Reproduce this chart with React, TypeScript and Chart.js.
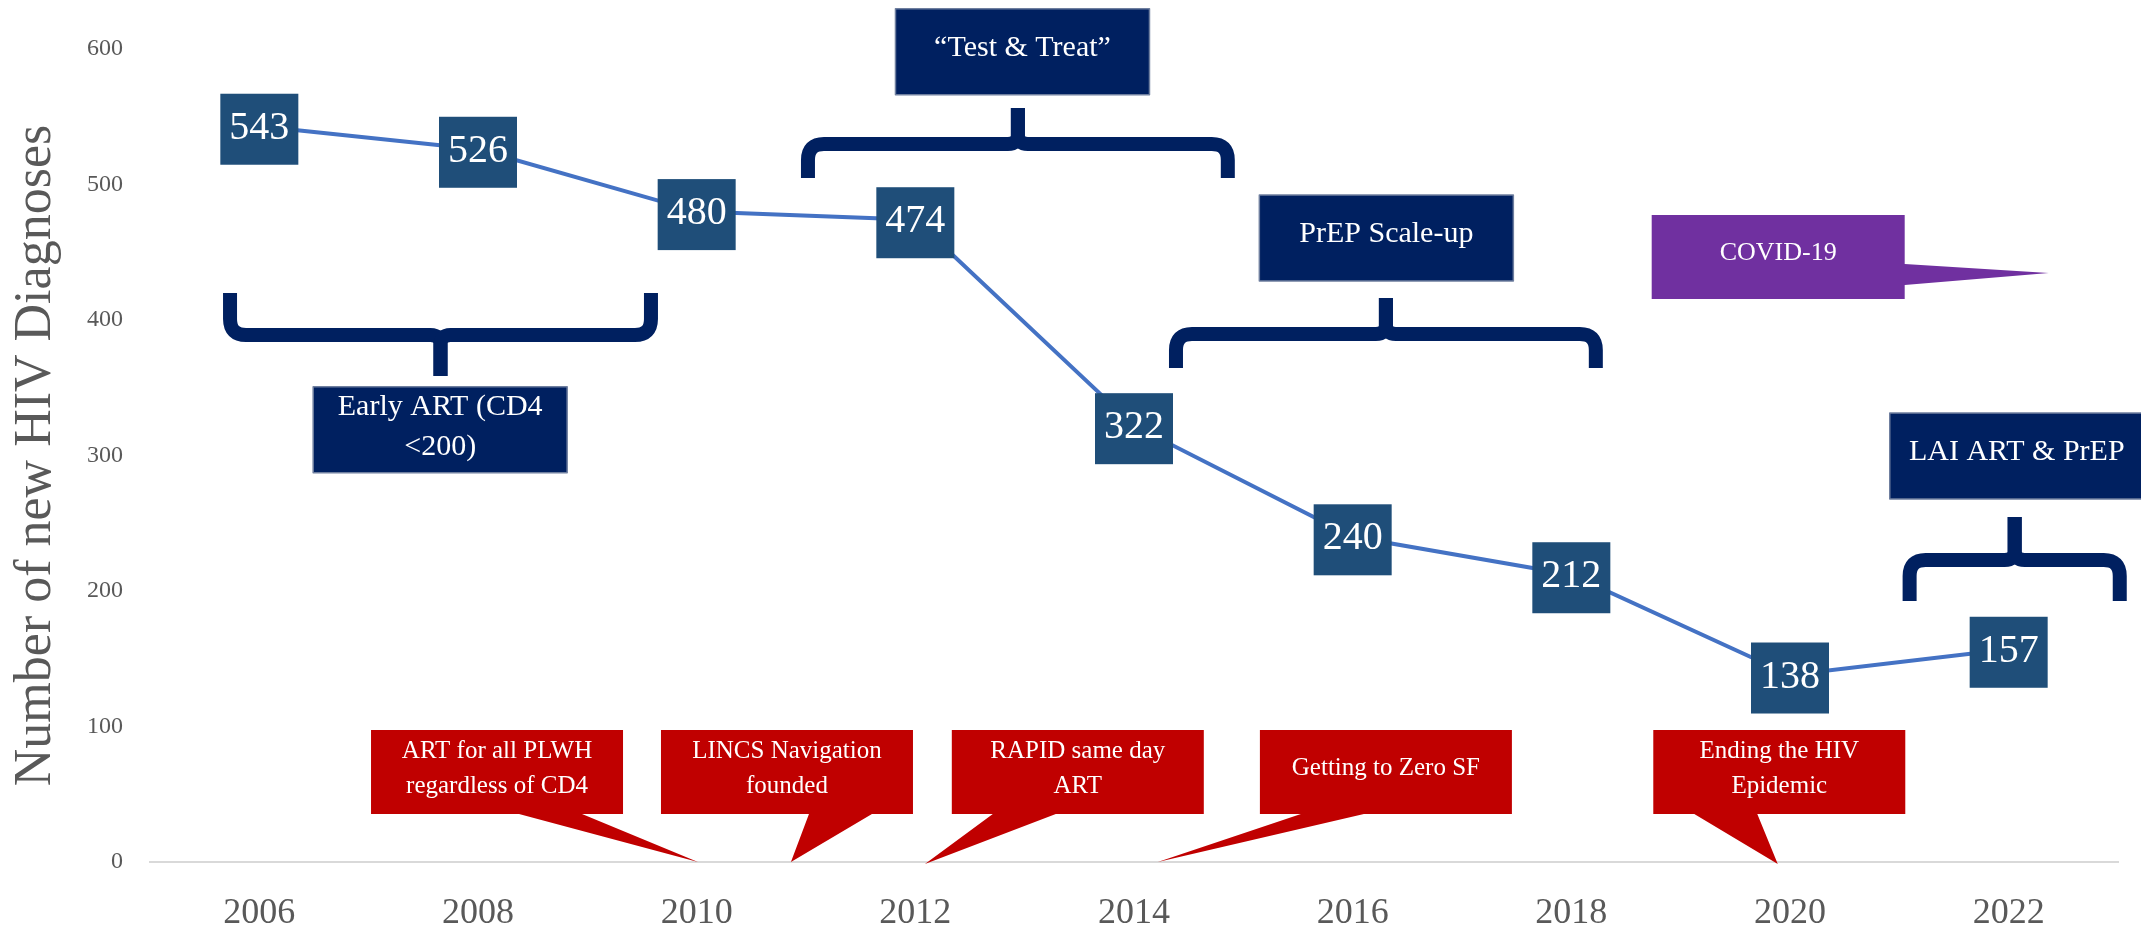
import React, { useEffect, useRef } from 'react';
import { Chart, registerables } from 'chart.js';

Chart.register(...registerables);

// ---------- data ----------
const years = ['2006', '2008', '2010', '2012', '2014', '2016', '2018', '2020', '2022'];
const diagnoses = [543, 526, 480, 474, 322, 240, 212, 138, 157];
const yMin = 0;
const yMax = 600;
const yStep = 100;
const yTitle = 'Number of new HIV Diagnoses';

// ---------- annotations (anchored in data units: x = category index, y = value) ----------
const periodLabels = [['\u201CTest & Treat\u201D'], ['Early ART (CD4', '<200)'], ['PrEP Scale-up'], ['LAI ART & PrEP']];
const periodBoxX = [3.49, 0.827, 5.154, 8.037];
const periodBoxY = [598, 319, 460.5, 299.6];

const braceLeft = [2.509, -0.134, 4.192, 7.547];
const braceRight = [4.429, 1.791, 6.112, 8.508];
const braceBarY = [529.9, 388.9, 389.7, 222.9];
const braceArmY = [504.8, 419.9, 364.6, 192.6];
const braceStemY = [556.5, 358.7, 416.2, 254.6];

const milestoneLabels = [
  ['ART for all PLWH', 'regardless of CD4'],
  ['LINCS Navigation', 'founded'],
  ['RAPID same day', 'ART'],
  ['Getting to Zero SF'],
  ['Ending the HIV', 'Epidemic'],
];
const milestoneBoxX = [1.087, 2.413, 3.743, 5.152, 6.951];
const milestoneBoxY = 66.4;
const milestoneTipX = [2.006, 2.431, 3.044, 4.109, 6.944];
const milestoneTipY = [0, 0, -1.5, 0, -1.5];
const milestonePointerSide = [1, 1, -1, -1, -1];

const covidLabel = 'COVID-19';
const covidBoxX = 6.946;
const covidBoxY = 446.5;
const covidTipX = 8.183;
const covidTipY = 434.7;

// ---------- styles ----------
const FONT = "'Liberation Serif', 'Times New Roman', serif";
const NAVY = '#002060';
const RED = '#C00000';
const PURPLE = '#7030A0';
const LABEL_BOX = '#1F4E79';
const LINE = '#4472C4';
const AXIS_TEXT = '#595959';

function drawLines(ctx: CanvasRenderingContext2D, lines: string[], cx: number, cy: number, size: number, gap: number) {
  ctx.fillStyle = '#FFFFFF';
  ctx.font = `${size}px ${FONT}`;
  ctx.textAlign = 'center';
  ctx.textBaseline = 'middle';
  if (lines.length === 1) {
    ctx.fillText(lines[0], cx, cy - 4);
  } else {
    ctx.fillText(lines[0], cx, cy - gap / 2 - 3);
    ctx.fillText(lines[1], cx, cy + gap / 2 - 3);
  }
}

const overlayPlugin = {
  id: 'overlay',
  afterDatasetsDraw(chart: any) {
    const { ctx } = chart;
    const xs = chart.scales.x;
    const ys = chart.scales.y;
    const px = (i: number) => xs.getPixelForValue(i);
    const py = (v: number) => ys.getPixelForValue(v);
    ctx.save();

    // braces
    ctx.strokeStyle = NAVY;
    ctx.lineWidth = 14;
    ctx.lineCap = 'butt';
    ctx.lineJoin = 'round';
    for (let k = 0; k < braceLeft.length; k++) {
      const xl = px(braceLeft[k]);
      const xr = px(braceRight[k]);
      const xc = (xl + xr) / 2;
      const yb = py(braceBarY[k]);
      const ya = py(braceArmY[k]);
      const yst = py(braceStemY[k]);
      const s = ya > yb ? 1 : -1;
      const r = 16;
      const r2 = 10;
      ctx.beginPath();
      ctx.moveTo(xl, ya);
      ctx.lineTo(xl, yb + s * r);
      ctx.quadraticCurveTo(xl, yb, xl + r, yb);
      ctx.lineTo(xc - r2, yb);
      ctx.quadraticCurveTo(xc, yb, xc, yb - s * r2);
      ctx.lineTo(xc, yst);
      ctx.stroke();
      ctx.beginPath();
      ctx.moveTo(xr, ya);
      ctx.lineTo(xr, yb + s * r);
      ctx.quadraticCurveTo(xr, yb, xr - r, yb);
      ctx.lineTo(xc + r2, yb);
      ctx.quadraticCurveTo(xc, yb, xc, yb - s * r2);
      ctx.lineTo(xc, yst);
      ctx.stroke();
    }

    // navy period boxes
    const bw = 254;
    const bh = 86;
    for (let k = 0; k < periodLabels.length; k++) {
      const cx = px(periodBoxX[k]);
      const cy = py(periodBoxY[k]);
      ctx.fillStyle = NAVY;
      ctx.fillRect(cx - bw / 2, cy - bh / 2, bw, bh);
      ctx.strokeStyle = '#6F7F9F';
      ctx.lineWidth = 1.5;
      ctx.strokeRect(cx - bw / 2, cy - bh / 2, bw, bh);
      drawLines(ctx, periodLabels[k], cx, cy, 30, 40);
    }

    // covid callout
    {
      const cx = px(covidBoxX);
      const cy = py(covidBoxY);
      const w = 253;
      const h = 84;
      const l = cx - w / 2;
      const t = cy - h / 2;
      const rgt = cx + w / 2;
      ctx.fillStyle = PURPLE;
      ctx.beginPath();
      ctx.moveTo(l, t);
      ctx.lineTo(rgt, t);
      ctx.lineTo(rgt, cy + 7);
      ctx.lineTo(px(covidTipX), py(covidTipY));
      ctx.lineTo(rgt, cy + 28);
      ctx.lineTo(rgt, t + h);
      ctx.lineTo(l, t + h);
      ctx.closePath();
      ctx.fill();
      drawLines(ctx, [covidLabel], cx, cy, 26, 0);
    }

    // red milestone callouts
    for (let k = 0; k < milestoneLabels.length; k++) {
      const cx = px(milestoneBoxX[k]);
      const cy = py(milestoneBoxY);
      const w = 252;
      const h = 84;
      const l = cx - w / 2;
      const t = cy - h / 2;
      const b = t + h;
      const side = milestonePointerSide[k];
      const b1 = cx + side * 22;
      const b2 = cx + side * 85;
      const tx = px(milestoneTipX[k]);
      const ty = py(milestoneTipY[k]);
      ctx.fillStyle = RED;
      ctx.beginPath();
      ctx.moveTo(l, t);
      ctx.lineTo(l + w, t);
      ctx.lineTo(l + w, b);
      ctx.lineTo(Math.max(b1, b2), b);
      ctx.lineTo(tx, ty);
      ctx.lineTo(Math.min(b1, b2), b);
      ctx.lineTo(l, b);
      ctx.closePath();
      ctx.fill();
      drawLines(ctx, milestoneLabels[k], cx, cy, 25, 35);
    }

    // data label boxes
    const meta = chart.getDatasetMeta(0);
    for (let i = 0; i < diagnoses.length; i++) {
      const pt = meta.data[i];
      const cx = pt.x;
      const cy = pt.y + 3;
      ctx.fillStyle = LABEL_BOX;
      ctx.fillRect(cx - 39, cy - 35.5, 78, 71);
      ctx.fillStyle = '#FFFFFF';
      ctx.font = `40px ${FONT}`;
      ctx.textAlign = 'center';
      ctx.textBaseline = 'middle';
      ctx.fillText(String(diagnoses[i]), cx, cy - 1);
    }

    ctx.restore();
  },
};

export default function App() {
  const canvasRef = useRef<HTMLCanvasElement | null>(null);

  useEffect(() => {
    const canvas = canvasRef.current;
    if (!canvas) return;
    Chart.defaults.font.family = FONT;
    const chart = new Chart(canvas, {
      type: 'line',
      data: {
        labels: years,
        datasets: [
          {
            data: diagnoses,
            borderColor: LINE,
            borderWidth: 4,
            pointRadius: 0,
            pointHoverRadius: 0,
            tension: 0,
            fill: false,
          },
        ],
      },
      options: {
        animation: false,
        responsive: false,
        devicePixelRatio: 1,
        layout: { padding: { top: 49, right: 23, left: 0, bottom: 0 } },
        plugins: { legend: { display: false }, tooltip: { enabled: false } },
        scales: {
          x: {
            type: 'category',
            offset: true,
            grid: { display: false, drawTicks: false },
            border: { display: true, color: '#D9D9D9', width: 2 },
            ticks: {
              color: AXIS_TEXT,
              font: { family: FONT, size: 36 },
              padding: 30,
              maxRotation: 0,
              autoSkip: false,
            },
            afterFit: (s: any) => {
              s.height = 69;
            },
          },
          y: {
            min: yMin,
            max: yMax,
            grid: { display: false, drawTicks: false },
            border: { display: false },
            ticks: {
              stepSize: yStep,
              color: AXIS_TEXT,
              font: { family: FONT, size: 24 },
              padding: 27,
            },
            title: {
              display: true,
              text: yTitle,
              color: AXIS_TEXT,
              font: { family: FONT, size: 52, lineHeight: 1.2 },
              padding: { top: 5, bottom: 0 },
            },
            afterFit: (s: any) => {
              s.width = 150;
            },
          },
        },
      },
      plugins: [overlayPlugin],
    } as any);
    return () => chart.destroy();
  }, []);

  return (
    <canvas
      ref={canvasRef}
      width={2141}
      height={931}
      style={{ position: 'fixed', left: 0, top: 0, width: 2141, height: 931, display: 'block' }}
    />
  );
}
